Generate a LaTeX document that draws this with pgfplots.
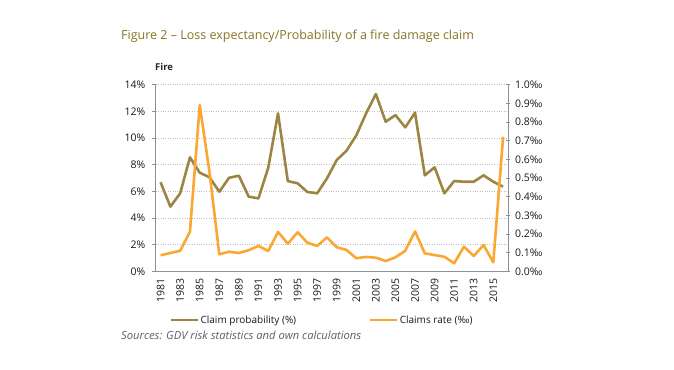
\documentclass[border=0pt]{standalone}
\usepackage{fontspec}
\setmainfont{Open Sans}
\usepackage{pgfplots}
\usepackage{pgfplotstable}
\pgfplotsset{compat=1.18}
\definecolor{brownline}{HTML}{9C8544}
\definecolor{orangeline}{HTML}{F8A833}
\definecolor{titlecol}{HTML}{8A7224}
\definecolor{axisgray}{HTML}{8A9298}
\definecolor{gridgray}{HTML}{BFBFBF}
\definecolor{srcgray}{HTML}{5F5F5F}

\pgfplotstableread{
year prob rate
1981 6.68 0.086
1982 4.85 0.098
1983 5.85 0.110
1984 8.55 0.212
1985 7.40 0.891
1986 7.05 0.530
1987 5.97 0.091
1988 7.02 0.105
1989 7.17 0.098
1990 5.60 0.113
1991 5.47 0.136
1992 7.77 0.109
1993 11.85 0.211
1994 6.77 0.148
1995 6.60 0.209
1996 5.95 0.153
1997 5.85 0.136
1998 6.97 0.182
1999 8.35 0.129
2000 9.05 0.114
2001 10.20 0.070
2002 11.85 0.077
2003 13.30 0.073
2004 11.22 0.055
2005 11.72 0.075
2006 10.80 0.110
2007 11.90 0.214
2008 7.20 0.096
2009 7.80 0.087
2010 5.85 0.078
2011 6.77 0.043
2012 6.72 0.132
2013 6.72 0.082
2014 7.20 0.141
2015 6.72 0.048
2016 6.35 0.721
}\data

\pgfplotsset{
  /pgf/number format/assume math mode=true,
  myaxis/.style={
    at={(155.7bp,98.7bp)}, anchor=south west,
    scale only axis, width=352.3bp, height=186.6bp,
    xmin=1980.5, xmax=2016.5,
    axis line style={axisgray, line width=0.9bp},
    major tick style={axisgray, line width=0.9bp},
    minor tick style={axisgray, line width=0.9bp},
    major tick length=4bp, minor tick length=4bp,
    tick label style={font=\fontsize{10.5bp}{12bp}\selectfont, text=black!90},
  }
}

\begin{document}
\begin{tikzpicture}
\path[use as bounding box] (0bp,0bp) rectangle (674bp,370bp);
\node[anchor=base west, inner sep=0, text=titlecol, font=\fontsize{12.5bp}{15bp}\selectfont] at (121bp,330bp) {Figure 2 -- Loss expectancy/Probability of a fire damage claim};
\node[anchor=base west, inner sep=0, font=\fontsize{9.5bp}{11bp}\selectfont\bfseries, text=black!85] at (155bp,299.5bp) {Fire};
\node[anchor=base west, inner sep=0, text=srcgray, font=\fontsize{11.2bp}{13bp}\selectfont\itshape] at (121bp,31bp) {Sources: GDV risk statistics and own calculations};

\begin{axis}[myaxis,
  ymin=0, ymax=14,
  ytick={0,2,4,6,8,10,12,14},
  yticklabel={\pgfmathprintnumber{\tick}\%},
  yticklabel style={xshift=-3bp},
  axis y line*=left, axis x line*=bottom,
  tick align=outside,
  xtick={1981,...,2016},
  xticklabels={1981,,1983,,1985,,1987,,1989,,1991,,1993,,1995,,1997,,1999,,2001,,2003,,2005,,2007,,2009,,2011,,2013,,2015,},
  x tick style={draw=none},
  minor xtick={1980.5,1981.5,...,2016.5},
  xticklabel style={rotate=90, anchor=east, yshift=0bp},
  ymajorgrids,
  grid style={gridgray, line width=0.6bp, dash pattern=on 0.8bp off 1.6bp},
  minor grid style={draw=none},
]
\addplot[brownline, line width=2.6bp, no marks, line join=round] table[x=year, y=prob] {\data};
\end{axis}

\begin{axis}[myaxis,
  ymin=0, ymax=1,
  ytick={0,0.1,0.2,0.3,0.4,0.5,0.6,0.7,0.8,0.9,1.0},
  yticklabel={\pgfmathprintnumber[fixed,fixed zerofill,precision=1]{\tick}‰},
  yticklabel style={xshift=1.5bp},
  axis y line*=right, axis x line=none,
  ytick align=center,
  legend columns=2,
  legend style={at={(0.04,-0.262)}, anchor=west, draw=none, fill=none, inner sep=0pt,
    font=\fontsize{10bp}{12bp}\selectfont, text=black!90,
    /tikz/every even column/.append style={column sep=72bp},
    nodes={inner xsep=1bp, inner ysep=0bp}},
  legend image code/.code={\draw[#1] (0bp,0bp) -- (27bp,0bp);},
]
\addlegendimage{brownline, line width=2.6bp}
\addlegendentry{Claim probability (\%)}
\addplot[orangeline, line width=2.6bp, no marks, line join=round] table[x=year, y=rate] {\data};
\addlegendentry{Claims rate (‰)}
\end{axis}
\end{tikzpicture}
\end{document}
